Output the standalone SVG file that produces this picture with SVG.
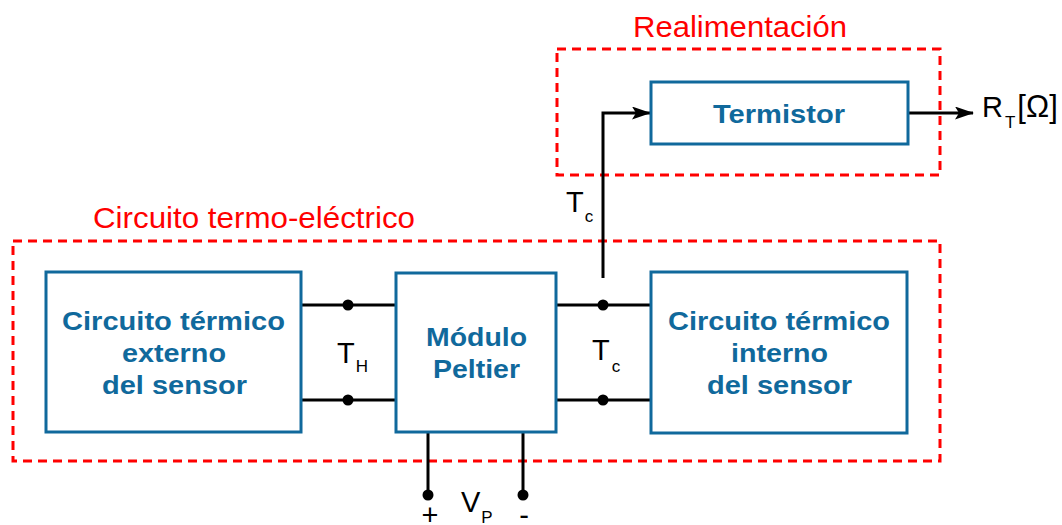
<svg xmlns="http://www.w3.org/2000/svg" width="1062" height="525" viewBox="0 0 1062 525">
<style>
.grp{fill:none;stroke:#ff0000;stroke-width:3;stroke-dasharray:9 6}
.box{fill:#fff;stroke:#10699c;stroke-width:3}
.bt{font-family:"Liberation Sans",Arial,sans-serif;font-weight:bold;font-size:25px;fill:#10699c}
.rt{font-family:"Liberation Sans",Arial,sans-serif;font-size:29px;fill:#ff0000}
.lt{font-family:"Liberation Sans",Arial,sans-serif;font-size:29px;fill:#000}
.sub{font-size:17px}
.w{stroke:#000;stroke-width:3;fill:none}
</style>
<defs>
<marker id="arr" markerWidth="19" markerHeight="13" refX="18" refY="6.5" orient="auto" markerUnits="userSpaceOnUse">
<path d="M0,0 L19,6.5 L0,13 L4,6.5 Z" fill="#000"/>
</marker>
</defs>
<g id="groups">
<rect class="grp" x="557" y="49" width="383" height="126"/>
<text class="rt" x="633" y="37" textLength="214" lengthAdjust="spacingAndGlyphs">Realimentación</text>
<rect class="grp" x="13" y="241" width="927" height="220"/>
<text class="rt" x="93" y="228" textLength="322" lengthAdjust="spacingAndGlyphs">Circuito termo-eléctrico</text>
</g>
<g id="connectors">
<line class="w" x1="301" y1="305" x2="396" y2="305"/>
<line class="w" x1="301" y1="400" x2="396" y2="400"/>
<line class="w" x1="556" y1="305" x2="651" y2="305"/>
<line class="w" x1="556" y1="400" x2="651" y2="400"/>
<polyline class="w" points="603,278 603,113 650,113" marker-end="url(#arr)"/>
<line class="w" x1="908" y1="113" x2="973" y2="113" marker-end="url(#arr)"/>
<line class="w" x1="428" y1="432" x2="428" y2="495"/>
<line class="w" x1="523" y1="432" x2="523" y2="495"/>
<circle cx="348" cy="305" r="5.5"/>
<circle cx="348" cy="400" r="5.5"/>
<circle cx="603" cy="305" r="5.5"/>
<circle cx="603" cy="400" r="5.5"/>
<circle cx="428" cy="495" r="5.5"/>
<circle cx="523" cy="495" r="5.5"/>
</g>
<g id="termistor">
<rect class="box" x="651" y="82" width="257" height="62"/>
<text class="bt" x="713" y="123" textLength="132" lengthAdjust="spacingAndGlyphs">Termistor</text>
</g>
<g id="externo">
<rect class="box" x="46" y="272" width="255" height="160"/>
<text class="bt" x="62" y="330" textLength="223" lengthAdjust="spacingAndGlyphs">Circuito térmico</text>
<text class="bt" x="122" y="362" textLength="104" lengthAdjust="spacingAndGlyphs">externo</text>
<text class="bt" x="102" y="394" textLength="145" lengthAdjust="spacingAndGlyphs">del sensor</text>
</g>
<g id="peltier">
<rect class="box" x="396" y="273" width="160" height="159"/>
<text class="bt" x="426" y="346" textLength="101" lengthAdjust="spacingAndGlyphs">Módulo</text>
<text class="bt" x="433" y="378" textLength="87" lengthAdjust="spacingAndGlyphs">Peltier</text>
</g>
<g id="interno">
<rect class="box" x="651" y="272" width="256" height="161"/>
<text class="bt" x="668" y="330" textLength="222" lengthAdjust="spacingAndGlyphs">Circuito térmico</text>
<text class="bt" x="731" y="362" textLength="97" lengthAdjust="spacingAndGlyphs">interno</text>
<text class="bt" x="707" y="394" textLength="145" lengthAdjust="spacingAndGlyphs">del sensor</text>
</g>
<g id="labels">
<text class="lt" x="337" y="363">T<tspan class="sub" dx="1" dy="9">H</tspan></text>
<text class="lt" x="592" y="360">T<tspan class="sub" dx="2" dy="12">c</tspan></text>
<text class="lt" x="566" y="212">T<tspan class="sub" dx="1" dy="10">c</tspan></text>
<text class="lt" x="982" y="117" font-size="30">R<tspan class="sub" dx="2" dy="11">T</tspan><tspan dx="2" dy="-11" font-size="31">[Ω]</tspan></text>
<text class="lt" x="461" y="512">V<tspan class="sub" dx="1" dy="11">P</tspan></text>
<text class="lt" x="430" y="525" text-anchor="middle" font-size="30">+</text>
<text class="lt" x="524" y="525" text-anchor="middle" font-size="30">-</text>
</g>
</svg>
